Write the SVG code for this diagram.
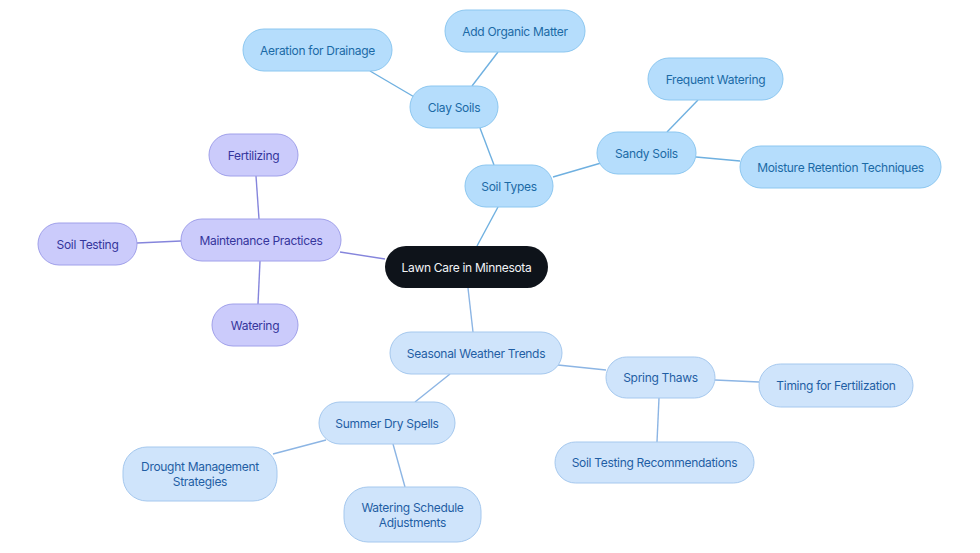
<svg xmlns="http://www.w3.org/2000/svg" width="980" height="553" viewBox="0 0 980 553">
<style>
text{font-family:Inter,"Noto Sans","Liberation Sans",sans-serif;font-size:12px;letter-spacing:-0.3px;text-anchor:middle;dominant-baseline:central}
.b rect{fill:#b5ddfc;stroke:#8cc7f0;stroke-width:1}
.b text{fill:#1b6aa6}
.p rect{fill:#cbcbfb;stroke:#a0a0ea;stroke-width:1}
.p text{fill:#35359c}
.s rect{fill:#cfe4fb;stroke:#a5c8ee;stroke-width:1}
.s text{fill:#1f5ea4}
.c rect{fill:#0e131a}
.c text{fill:#f2f4f7}
.eb{stroke:#6fb0e0;stroke-width:1.4;fill:none}
.ep{stroke:#8585dc;stroke-width:1.4;fill:none}
.es{stroke:#8cb5e4;stroke-width:1.4;fill:none}
</style>
<rect width="980" height="553" fill="#ffffff"/>
<g id="connectors">
<line class="eb" x1="477" y1="246" x2="498" y2="207"/>
<line class="ep" x1="385" y1="259" x2="340" y2="252"/>
<line class="es" x1="468" y1="288" x2="473" y2="332"/>
<line class="eb" x1="494" y1="165" x2="480" y2="128"/>
<line class="eb" x1="472" y1="86" x2="498" y2="52"/>
<line class="eb" x1="416" y1="98" x2="370" y2="71"/>
<line class="eb" x1="553" y1="177" x2="601" y2="163"/>
<line class="eb" x1="667" y1="132" x2="698" y2="100"/>
<line class="eb" x1="696" y1="157" x2="740" y2="161"/>
<line class="ep" x1="259" y1="219" x2="256" y2="176"/>
<line class="ep" x1="181" y1="241" x2="137" y2="243"/>
<line class="ep" x1="260" y1="261" x2="258" y2="304"/>
<line class="es" x1="558" y1="365" x2="606" y2="370"/>
<line class="es" x1="450" y1="374" x2="415" y2="402"/>
<line class="es" x1="715" y1="380" x2="759" y2="382"/>
<line class="es" x1="659" y1="398" x2="657" y2="442"/>
<line class="es" x1="326" y1="440" x2="273" y2="454"/>
<line class="es" x1="393" y1="444" x2="405" y2="487"/>
</g>
<g id="central" class="c"><rect x="385" y="246" width="163" height="42" rx="21"/><text x="466.5" y="267">Lawn Care in Minnesota</text></g>
<g id="soil-types" class="b"><rect x="465" y="165" width="88" height="42" rx="21"/><text x="509" y="186">Soil Types</text></g>
<g id="clay-soils" class="b"><rect x="410" y="86" width="88" height="42" rx="21"/><text x="454" y="107">Clay Soils</text></g>
<g id="add-organic" class="b"><rect x="445" y="10" width="140" height="42" rx="21"/><text x="515" y="31">Add Organic Matter</text></g>
<g id="aeration" class="b"><rect x="243" y="29" width="149" height="42" rx="21"/><text x="317.5" y="50">Aeration for Drainage</text></g>
<g id="sandy-soils" class="b"><rect x="597" y="132" width="99" height="42" rx="21"/><text x="646.5" y="153">Sandy Soils</text></g>
<g id="frequent-watering" class="b"><rect x="648" y="58" width="135" height="42" rx="21"/><text x="715.5" y="79">Frequent Watering</text></g>
<g id="moisture" class="b"><rect x="740" y="146" width="201" height="42" rx="21"/><text x="840.5" y="167">Moisture Retention Techniques</text></g>
<g id="maintenance" class="p"><rect x="181" y="219" width="160" height="42" rx="21"/><text x="261" y="240">Maintenance Practices</text></g>
<g id="fertilizing" class="p"><rect x="209" y="134" width="89" height="42" rx="21"/><text x="253.5" y="155">Fertilizing</text></g>
<g id="soil-testing" class="p"><rect x="38" y="223" width="99" height="42" rx="21"/><text x="87.5" y="244">Soil Testing</text></g>
<g id="watering" class="p"><rect x="212" y="304" width="86" height="42" rx="21"/><text x="255" y="325">Watering</text></g>
<g id="seasonal" class="s"><rect x="390" y="332" width="172" height="42" rx="21"/><text x="476" y="353">Seasonal Weather Trends</text></g>
<g id="spring-thaws" class="s"><rect x="606" y="357" width="109" height="41" rx="20.5"/><text x="660.5" y="377.5">Spring Thaws</text></g>
<g id="timing" class="s"><rect x="759" y="364" width="154" height="43" rx="21.5"/><text x="836" y="385.5">Timing for Fertilization</text></g>
<g id="soil-testing-rec" class="s"><rect x="555" y="442" width="199" height="41" rx="20.5"/><text x="654.5" y="462.5">Soil Testing Recommendations</text></g>
<g id="summer" class="s"><rect x="319" y="402" width="136" height="42" rx="21"/><text x="387" y="423">Summer Dry Spells</text></g>
<g id="drought" class="s"><rect x="123" y="447" width="154" height="54" rx="24"/><text x="200" y="466.5">Drought Management</text><text x="200" y="481">Strategies</text></g>
<g id="watering-schedule" class="s"><rect x="344" y="487" width="137" height="55" rx="24"/><text x="412.5" y="507.5">Watering Schedule</text><text x="412.5" y="522">Adjustments</text></g>
</svg>
